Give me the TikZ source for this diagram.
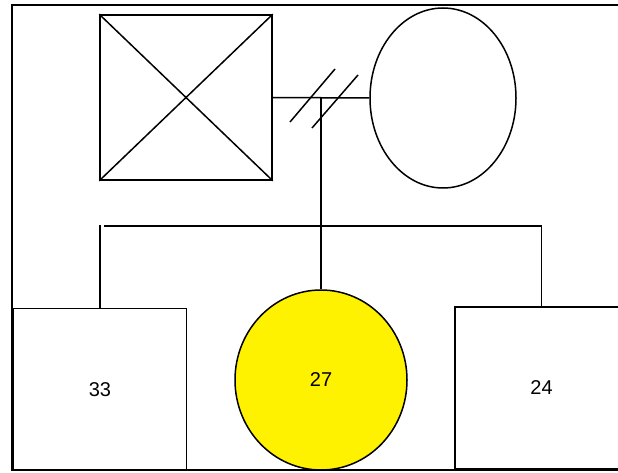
\documentclass[tikz,border=0pt]{standalone}
\usepackage{fontspec}
\setmainfont{Liberation Sans}
\usetikzlibrary{shapes.geometric}
\begin{document}
\begin{tikzpicture}[x=1pt,y=-1pt,
  ln/.style={line width=1.5pt,black},
  person/.style={draw=black,line width=1.5pt,inner sep=0pt,font=\fontsize{20}{24}\selectfont},
  male/.style={person,rectangle,minimum width=173pt,minimum height=162pt},
  female/.style={person,ellipse}]
\useasboundingbox (0,0) rectangle (618,473);
% frame
\draw[line width=2pt] (618,5.5) -- (12,5.5) -- (12,470) -- (618,470);
% parents
\node[person,rectangle,minimum width=172pt,minimum height=165pt] (father) at (186,97.5) {};
\draw[ln] (father.north west) -- (father.south east);
\draw[ln] (father.north east) -- (father.south west);
\node[female,minimum width=146pt,minimum height=180pt] (mother) at (443,98) {};
\draw[ln] (father.east) -- (mother.west);
% children
\node[male] (c33) at (100,389.5) {33};
\node[female,fill=yellow,minimum width=172pt,minimum height=180pt] (c27) at (321,380) {27};
\node[male] (c24) at (541.5,388) {24};
% descent
\coordinate (m) at (c27.north |- father.east);
\draw[ln] (m) -- (c27.north);
% separation slashes
\draw[ln] (290,122) -- (335,69);
\draw[ln] (312,128) -- (358,75);
% sibship line
\coordinate (sl) at (c33.north |- 0,226);
\coordinate (sr) at (c24.north |- 0,226);
\draw[ln] ([xshift=4pt]sl) -- (sr) -- (c24.north);
\draw[ln] ([yshift=1pt]sl) -- (c33.north);
\end{tikzpicture}
\end{document}
